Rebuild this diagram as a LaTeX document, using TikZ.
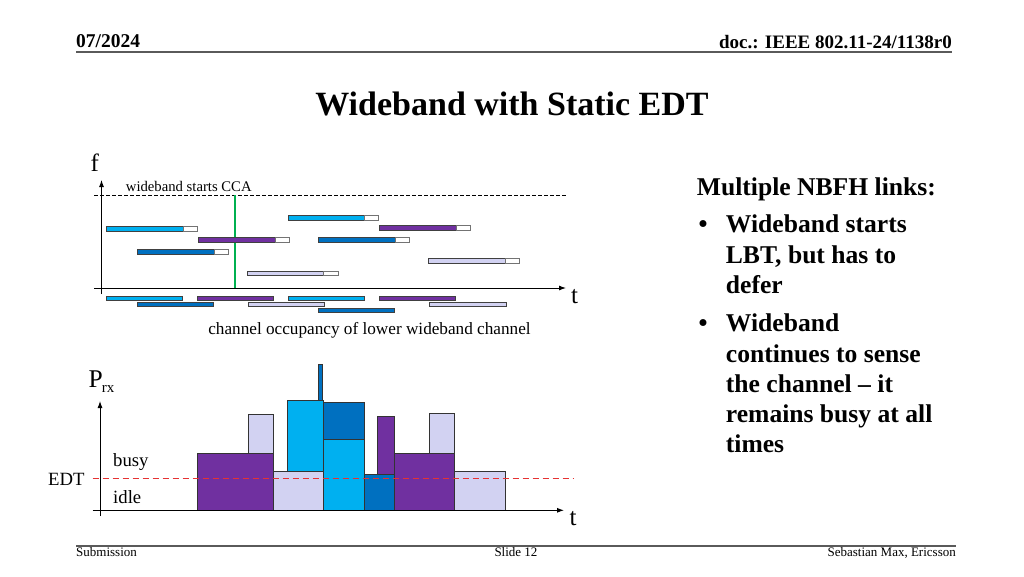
\documentclass[tikz,border=0pt]{standalone}
\usepackage{fontspec}
\setmainfont{Liberation Serif}
\usetikzlibrary{arrows.meta}
\definecolor{cyanb}{RGB}{0,176,240}
\definecolor{darkb}{RGB}{0,112,192}
\definecolor{purp}{RGB}{112,48,160}
\definecolor{lav}{RGB}{210,210,242}
\definecolor{grn}{RGB}{0,176,80}
\definecolor{edtred}{RGB}{230,50,50}
\definecolor{rulegray}{RGB}{90,90,90}
\newcommand{\fs}[2]{\fontsize{#1}{#2}\selectfont}
% top bar: start, coloured end, white end, y, colour
\newcommand{\mybar}[5]{%
  \draw[barline,fill=#5] (#1,#4-2.4) rectangle (#2,#4+2.4);
  \draw[wline,fill=white] (#2,#4-2.4) rectangle (#3,#4+2.4);}
\newcommand{\mylowbar}[4]{%
  \draw[barline,fill=#4] (#1,#3-2.4) rectangle (#2,#3+2.4);}
\newcommand{\myblk}[5]{%
  \draw[blkline,fill=#5] (#1,#3) rectangle (#2,#4);}
\tikzset{
  barline/.style={draw=black!75,line width=0.7pt},
  wline/.style={draw=black!55,line width=0.7pt},
  blkline/.style={draw=black!80,line width=0.8pt},
  axisline/.style={draw=black,line width=0.9pt},
  axisarrow/.style={axisline,-{Latex[length=7pt,width=5pt]}},
  lbl/.style={inner sep=0pt,anchor=base west},
  bul/.style={lbl,font=\bfseries\fs{25.6}{30.3}},
  rulebar/.style={draw=rulegray,line width=2pt}
}
\begin{document}
\begin{tikzpicture}[x=1pt,y=-1pt]
\useasboundingbox[fill=white] (0,0) rectangle (1024,576);
% header
\node[lbl,font=\bfseries\fs{19.5}{22}] (date) at (76,47) {07/2024};
\node[inner sep=0pt,anchor=base east,font=\bfseries\fs{19}{22}] (doc) at (952,48) {doc.: IEEE 802.11-24/1138r0};
\coordinate (hl) at (76,51.5);
\coordinate (hr) at (952,51.5);
\draw[rulebar] (hl) -- (hr);
% title
\node[inner sep=0pt,anchor=base,font=\bfseries\fs{34}{40}] (title) at (512,115) {Wideband with Static EDT};
% footer
\coordinate (fl) at (76,545.5);
\coordinate (fr) at (956,545.5);
\draw[rulebar] (fl) -- (fr);
\node[lbl,font=\fs{13}{15}] (sub) at (76,556) {Submission};
\node[inner sep=0pt,anchor=base,font=\fs{13}{15}] (slide) at (516,556) {Slide 12};
\node[inner sep=0pt,anchor=base east,font=\fs{13}{15}] (auth) at (956,556) {Sebastian Max, Ericsson};

% ---------- top chart ----------
\coordinate (fyb) at (101.5,294);
\coordinate (fyt) at (101.5,180);
\coordinate (ftl) at (94,288);
\coordinate (ftr) at (566,288);
\coordinate (dl) at (94,195);
\coordinate (dr) at (566,195);
\draw[dashed,dash pattern=on 3.5pt off 2.5pt,line width=0.7pt] (dl) -- (dr);
\coordinate (gt) at (235,195);
\coordinate (gb) at (235,288);
\draw[grn,line width=2pt] (gt) -- (gb);
\mybar{288}{364.3}{378.7}{217.7}{cyanb}
\mybar{106.3}{183.3}{197.3}{228.8}{cyanb}
\mybar{379.3}{456.7}{470.7}{228}{purp}
\mybar{198.3}{275}{289.3}{239.7}{purp}
\mybar{318.3}{395.7}{409.3}{239.7}{darkb}
\mybar{137.3}{214.3}{228.3}{251.7}{darkb}
\mybar{428.3}{505}{519.3}{261}{lav}
\mybar{247.3}{323.5}{338.3}{273.3}{lav}
\mylowbar{106.3}{182.7}{298.3}{cyanb}
\mylowbar{197.3}{273.7}{298.3}{purp}
\mylowbar{288.3}{364.3}{298.3}{cyanb}
\mylowbar{379}{455.3}{298.3}{purp}
\mylowbar{137}{213.3}{304.3}{darkb}
\mylowbar{248.3}{324.3}{304.3}{lav}
\mylowbar{429.3}{506}{304.3}{lav}
\mylowbar{318.3}{394.3}{310.3}{darkb}
\draw[axisarrow] (fyb) -- (fyt);
\draw[axisarrow] (ftl) -- (ftr);
\node[lbl,font=\fs{25}{28}] (f) at (90.5,171.5) {f};
\node[lbl,font=\fs{25}{28}] (t1) at (571,303.5) {t};
\node[lbl,font=\fs{14.7}{17}] (cca) at (125.7,191.7) {wideband starts CCA};
\node[inner sep=0pt,anchor=base,font=\fs{17.2}{20}] (occ) at (369.5,334) {channel occupancy of lower wideband channel};

% ---------- bottom chart ----------
\myblk{197}{273.3}{453}{510.3}{purp}
\myblk{248.3}{273.3}{414.3}{453}{lav}
\myblk{273.3}{323.3}{471.7}{510.3}{lav}
\myblk{287.7}{323.3}{400.3}{471.7}{cyanb}
\myblk{318.3}{322.7}{364.3}{400.3}{darkb}
\myblk{323.3}{364}{439}{510.3}{cyanb}
\myblk{323.3}{364}{402.7}{439}{darkb}
\myblk{364}{394.3}{474.3}{510.3}{darkb}
\myblk{377.7}{394.3}{416.7}{474.3}{purp}
\myblk{394.3}{454.3}{453}{510.3}{purp}
\myblk{429.3}{454.3}{413.7}{453}{lav}
\myblk{454.3}{505.3}{471.7}{510.3}{lav}
\coordinate (pyb) at (100,516);
\coordinate (pyt) at (100,401);
\coordinate (ptl) at (92.7,510.3);
\coordinate (ptr) at (564,510.3);
\draw[axisarrow] (pyb) -- (pyt);
\draw[axisarrow] (ptl) -- (ptr);
\coordinate (el) at (92.7,478.7);
\coordinate (er) at (573,478.7);
\draw[edtred,dash pattern=on 6pt off 4pt,line width=1.1pt] (el) -- (er);
\node[lbl,font=\fs{25.5}{28}] (p) at (88.5,387) {P};
\node[lbl,font=\fs{15}{17}] (rx) at (101.7,392) {rx};
\node[lbl,font=\fs{18.7}{21}] (busy) at (113,466.7) {busy};
\node[lbl,font=\fs{18.7}{21}] (idle) at (113,503.3) {idle};
\node[lbl,font=\fs{18.7}{21}] (edt) at (48,485.7) {EDT};
\node[lbl,font=\fs{25}{28}] (t2) at (569.5,525) {t};

% ---------- bullets ----------
\node[bul] (head) at (696.7,195) {Multiple NBFH links:};
\node[bul] (dot1) at (698.5,232.7) {•};
\node[bul] (b1) at (725.7,232.7) {\begin{tabular}[t]{@{}l@{}}Wideband starts\\LBT, but has to\\defer\end{tabular}};
\node[bul] (dot2) at (698.5,331.7) {•};
\node[bul] (b2) at (725.7,331.7) {\begin{tabular}[t]{@{}l@{}}Wideband\\continues to sense\\the channel – it\\remains busy at all\\times\end{tabular}};
\end{tikzpicture}
\end{document}
